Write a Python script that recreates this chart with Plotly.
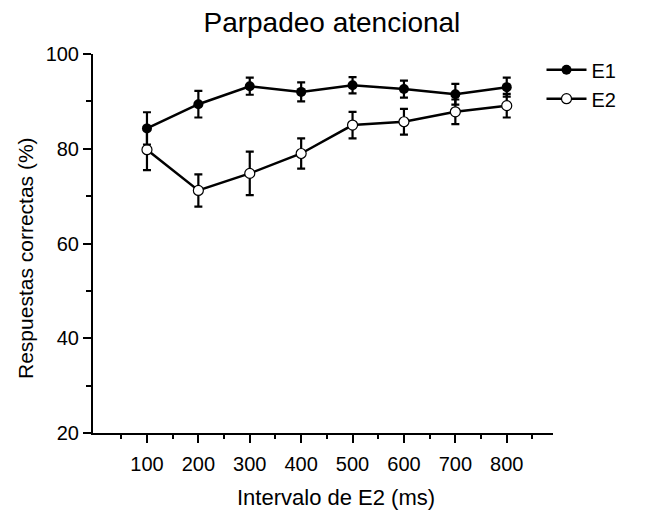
import plotly.graph_objects as go

intervals = [100, 200, 300, 400, 500, 600, 700, 800]
e1_mean = [84.3, 89.4, 93.2, 92.0, 93.4, 92.6, 91.5, 93.0]
e1_err = [3.4, 2.8, 1.8, 2.0, 1.7, 1.8, 2.2, 2.0]
e2_mean = [79.8, 71.2, 74.8, 79.0, 85.0, 85.7, 87.8, 89.1]
e2_err = [4.3, 3.4, 4.6, 3.2, 2.8, 2.7, 2.6, 2.5]
series_names = ["E1", "E2"]
x_ticks = [100, 200, 300, 400, 500, 600, 700, 800]
y_ticks = [20, 40, 60, 80, 100]

FONT = "Liberation Sans, Arial, sans-serif"

fig = go.Figure()
fig.add_trace(go.Scatter(
    x=intervals, y=e2_mean, name=series_names[1], mode="lines+markers",
    line=dict(color="black", width=2.5),
    marker=dict(symbol="circle", size=10, color="white", line=dict(color="black", width=1.2)),
    error_y=dict(type="data", array=e2_err, color="black", thickness=2.2, width=4),
    showlegend=True, legendrank=2,
))
fig.add_trace(go.Scatter(
    x=intervals, y=e1_mean, name=series_names[0], mode="lines+markers",
    line=dict(color="black", width=2.5),
    marker=dict(symbol="circle", size=10, color="black"),
    error_y=dict(type="data", array=e1_err, color="black", thickness=2.2, width=4),
    showlegend=True, legendrank=1,
))

fig.update_layout(
    width=647, height=512,
    margin=dict(l=93, r=94, t=54, b=79),
    paper_bgcolor="white", plot_bgcolor="white",
    font=dict(family=FONT, color="black", size=20),
    title=dict(text="Parpadeo atencional", x=0.513, xanchor="center", y=0.957, yanchor="middle",
               font=dict(size=28, family=FONT, color="black")),
    legend=dict(x=0.975, xanchor="left", y=1.01, yanchor="top", bgcolor="rgba(0,0,0,0)",
                font=dict(size=20, family=FONT), itemwidth=40, tracegroupgap=0,
                traceorder="normal"),
    xaxis=dict(range=[-5, 890], showline=True, linecolor="black", linewidth=2,
               showgrid=False, zeroline=False, ticks="outside", ticklen=8, tickwidth=2,
               tickcolor="black", tickvals=x_ticks, ticktext=[str(v) for v in x_ticks],
               tickfont=dict(size=20), ticklabelstandoff=4,
               minor=dict(tickvals=[50, 150, 250, 350, 450, 550, 650, 750, 850],
                          ticks="outside", ticklen=4, tickwidth=2, tickcolor="black")),
    yaxis=dict(range=[20, 100], showline=True, linecolor="black", linewidth=2,
               showgrid=False, zeroline=False, ticks="outside", ticklen=8, tickwidth=2,
               tickcolor="black", tickvals=y_ticks, tickfont=dict(size=20),
               minor=dict(tickvals=[30, 50, 70, 90], ticks="outside", ticklen=5,
                          tickwidth=2, tickcolor="black")),
    annotations=[
        dict(text="Intervalo de E2 (ms)", xref="paper", yref="paper",
             x=(336 - 93) / 460, y=-(497 - 433) / 379, xanchor="center", yanchor="middle",
             showarrow=False, font=dict(size=22, family=FONT, color="black")),
        dict(text="Respuestas correctas (%)", xref="paper", yref="paper", textangle=-90,
             x=-(93 - 25) / 460, y=(433 - 258) / 379, xanchor="center", yanchor="middle",
             showarrow=False, font=dict(size=21, family=FONT, color="black")),
    ],
)

fig.write_html("out.html")
